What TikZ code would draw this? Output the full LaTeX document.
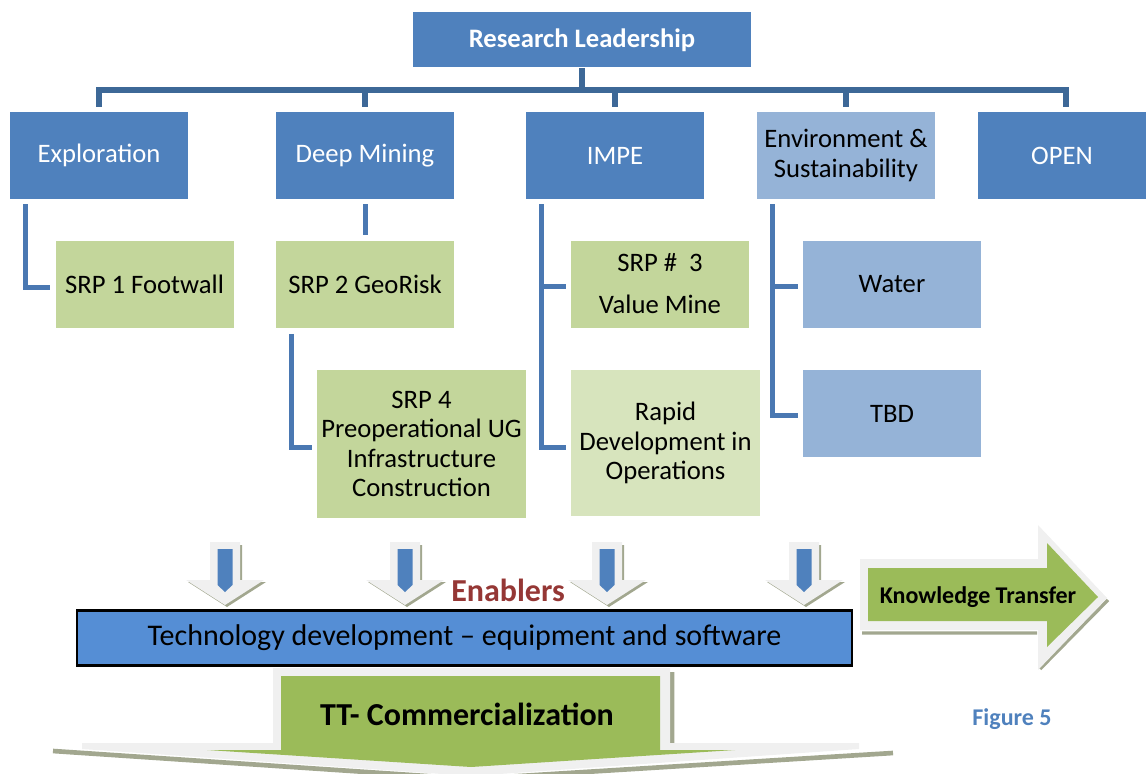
\documentclass[tikz,border=0pt]{standalone}
\usepackage{fontspec}
\setmainfont{Carlito}
\usepackage{tikz}
\usetikzlibrary{calc}

\definecolor{topblue}{HTML}{4F81BD}
\definecolor{paleblue}{HTML}{95B3D7}
\definecolor{srpgreen}{HTML}{C3D69B}
\definecolor{palegreen}{HTML}{D7E4BD}
\definecolor{arrowgreen}{HTML}{9BBB59}
\definecolor{techblue}{HTML}{558ED5}
\definecolor{linkblue}{HTML}{4A78B2}
\definecolor{busblue}{HTML}{3D6897}
\definecolor{enablered}{HTML}{953735}
\definecolor{ghost}{HTML}{F0F0F0}
\definecolor{hatch}{HTML}{A2A78F}

\begin{document}
\begin{tikzpicture}[x=0.75pt, y=-0.75pt]
		\tikzstyle{box} = [inner sep=0pt, align=center, font=\fontsize{20}{22}\selectfont, minimum width=133.5pt, minimum height=65.25pt]
		\tikzstyle{unit} = [box, fill=topblue, text=white]
		\tikzstyle{srp} = [box, fill=srpgreen]
		\tikzstyle{bus} = [draw=busblue, line width=4pt]
		\tikzstyle{link} = [draw=linkblue, line width=3.75pt]

		\useasboundingbox (0,0) rectangle (1146,774);

		\begin{scope}[]
		\path
		node[unit, minimum width=253.5pt, minimum height=41.25pt, font=\bfseries\fontsize{20}{22}\selectfont] (lead) at (582,40) {Research Leadership}

		node[unit] (expl) at (99,155.5) {Exploration}
		node[unit] (deep) at (365,155.5) {Deep Mining}
		node[unit] (impe) at (615,155.5) {IMPE}
		node[box, fill=paleblue] (env) at (846,155.5) {Environment \&\\Sustainability}
		node[unit, minimum width=126pt] (open) at (1062,155.5) {OPEN}

		node[srp] (srp1) at (144.5,284) {SRP 1 Footwall}
		node[srp] (srp2) at (365,284) {SRP 2 GeoRisk}
		node[srp] (srp3) at (660,284) {SRP \#~~3\\[9.5pt]Value Mine}
		node[box, fill=paleblue] (water) at (892,284) {Water}
		node[srp, minimum width=156.75pt, minimum height=111pt] (srp4) at (421.5,444) {SRP 4\\Preoperational UG\\Infrastructure\\Construction}
		node[box, fill=palegreen, minimum width=141.75pt, minimum height=109.5pt] (rapid) at (665.5,443) {Rapid\\Development in\\Operations}
		node[box, fill=paleblue] (tbd) at (892,413.5) {TBD}
		;
		\end{scope}

		\coordinate (hub) at (582,90);
		\draw[bus] (lead.south) -- (hub);
		\foreach \u in {expl,deep,impe,env}
			\draw[bus, shorten <=3.75pt] (\u.north) |- (hub);
		\draw[bus, shorten <=3.75pt] ($(open.north)+(4,0)$) |- (hub);

		\draw[link] ($(expl.south west)+(16,5)$) |- ($(srp1.west)+(-5,3)$);
		\draw[link] ($(deep.south)+(0,5)$) -- ($(srp2.north)+(0,-5)$);
		\draw[link] ($(srp2.south west)+(16,6)$) |- ($(srp4.west)+(-5,3)$);
		\draw[link] ($(impe.south west)+(16,5)$) |- ($(srp3.west)+(-5,2)$);
		\draw[link] ($(impe.south west)+(16,5)$) |- ($(rapid.west)+(-5,4)$);
		\draw[link] ($(env.south west)+(16,5)$) |- ($(water.west)+(-5,2)$);
		\draw[link] ($(env.south west)+(16,5)$) |- ($(tbd.west)+(-5,1.5)$);

		\foreach \ax in {225,405,607,804} {
			\fill[hatch] (\ax-12,545) -- (\ax+17,545) -- (\ax+17,582) -- (\ax+41,582) -- (\ax+2,607) -- (\ax-37,582) -- (\ax-12,582) -- cycle;
			\fill[ghost] (\ax-15,542) -- (\ax+15,542) -- (\ax+15,580) -- (\ax+39,580) -- (\ax,605) -- (\ax-39,580) -- (\ax-15,580) -- cycle;
			\fill[topblue] (\ax-7.5,549) -- (\ax+7.5,549) -- (\ax+7.5,585) -- (\ax,592) -- (\ax-7.5,585) -- cycle;
		}

		\node[font=\bfseries\fontsize{24}{26}\selectfont, text=enablered] (enab) at (508,590) {Enablers};
		\node[draw=black, line width=2pt, fill=techblue, minimum width=581.25pt, minimum height=41.25pt, inner sep=0pt, font=\fontsize{22.5}{24}\selectfont] (tech) at (464.5,638) {Technology development -- equipment and software};

		\draw[hatch, line width=2.5pt] (862,633) -- (1037,633) (1040,669) -- (1108,600);
		\fill[ghost] (860,559) -- (1038,559) -- (1038,525) -- (1107,598) -- (1038,670) -- (1038,630) -- (860,630) -- cycle;
		\fill[arrowgreen] (868,568) -- (1047,568) -- (1047,543) -- (1098,597) -- (1047,647) -- (1047,621) -- (868,621) -- cycle;
		\node[font=\bfseries\fontsize{18}{20}\selectfont] (kt) at (978,597) {Knowledge Transfer};

		\draw[hatch, line width=3.5pt] (672,672) -- (672,743) (53,751) -- (471,779) -- (893,753);
		\fill[ghost] (273,668) -- (670,668) -- (670,743) -- (859,743) -- (859,749) -- (471,776) -- (82,749) -- (82,743) -- (273,743) -- cycle;
		\fill[arrowgreen] (281,676) -- (660,676) -- (660,750) -- (735,750) -- (471,767) -- (207,750) -- (281,750) -- cycle;
		\node[font=\bfseries\fontsize{24}{26}\selectfont] (tt) at (467,714) {TT- Commercialization};

		\node[font=\bfseries\fontsize{18}{20}\selectfont, text=topblue] (fig) at (1012,719) {Figure 5};

		\end{tikzpicture}
\end{document}
